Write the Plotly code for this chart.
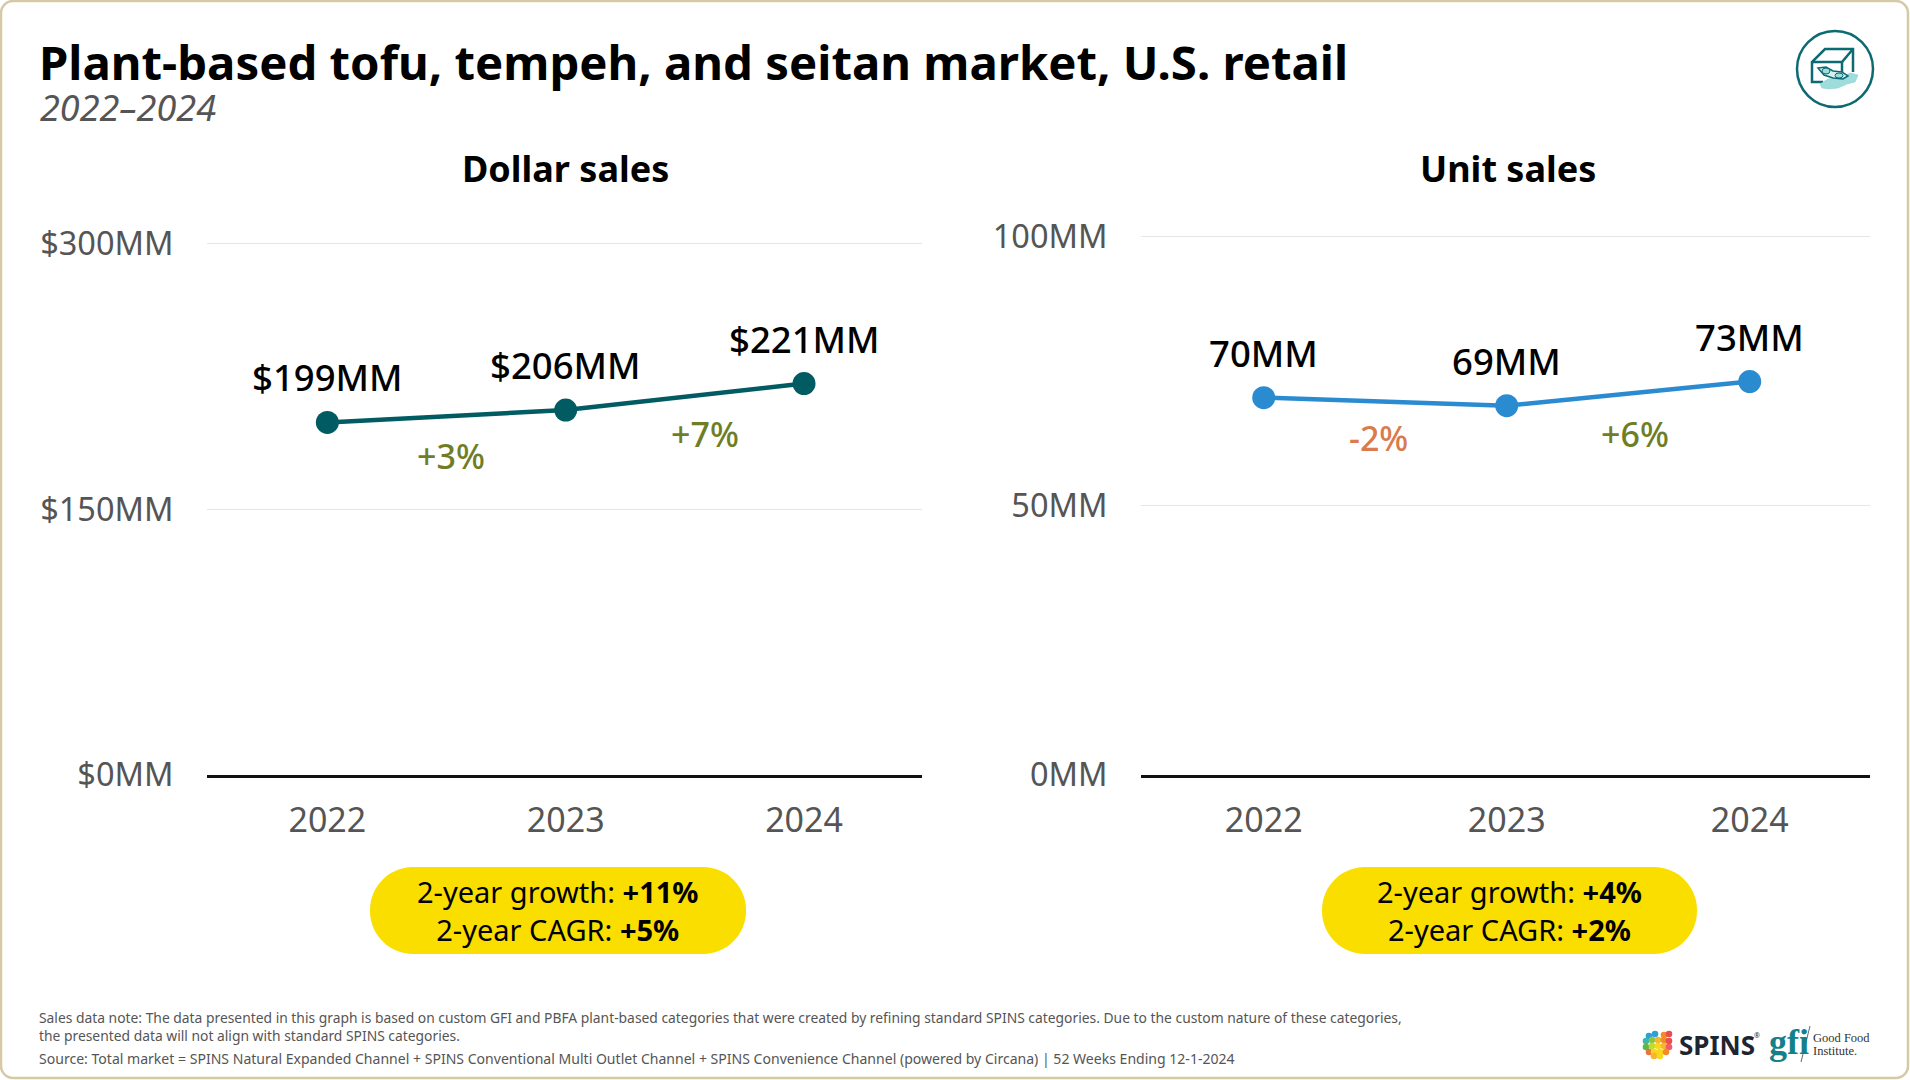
import plotly.graph_objects as go

# data
years = ['2022', '2023', '2024']
dollar_sales = [199, 206, 221]
unit_sales = [70, 68.5, 73]
dollar_labels = ['$199MM', '$206MM', '$221MM']
unit_labels = ['70MM', '69MM', '73MM']
dollar_changes = ['+3%', '+7%']
unit_changes = ['-2%', '+6%']
dollar_ticks = [0, 150, 300]
dollar_ticktext = ['$0MM', '$150MM', '$300MM']
unit_ticks = [0, 50, 100]
unit_ticktext = ['0MM', '50MM', '100MM']

W, H = 1910, 1080
FONT = 'Noto Sans'
GREEN = '#6f7e25'
ORANGE = '#d97b4e'
TEAL = '#005b62'
BLUE = '#2b8bd0'
ICON = '#0c6a72'
GREY = '#555555'


def px(x):
    return x / W


def py(y):
    return 1 - y / H


def path(points, close=True):
    # pixel points -> paper svg path
    s = 'M ' + ' L '.join(f'{px(x):.5f},{py(y):.5f}' for x, y in points)
    return s + (' Z' if close else '')


def round_rect(x0, y0, x1, y1, r):
    # rounded box in pixels, corners as cubic curves
    k = r * 0.45
    return (
        f'M {px(x0 + r):.5f},{py(y0):.5f} L {px(x1 - r):.5f},{py(y0):.5f} '
        f'C {px(x1 - k):.5f},{py(y0):.5f} {px(x1):.5f},{py(y0 + k):.5f} {px(x1):.5f},{py(y0 + r):.5f} '
        f'L {px(x1):.5f},{py(y1 - r):.5f} '
        f'C {px(x1):.5f},{py(y1 - k):.5f} {px(x1 - k):.5f},{py(y1):.5f} {px(x1 - r):.5f},{py(y1):.5f} '
        f'L {px(x0 + r):.5f},{py(y1):.5f} '
        f'C {px(x0 + k):.5f},{py(y1):.5f} {px(x0):.5f},{py(y1 - k):.5f} {px(x0):.5f},{py(y1 - r):.5f} '
        f'L {px(x0):.5f},{py(y0 + r):.5f} '
        f'C {px(x0):.5f},{py(y0 + k):.5f} {px(x0 + k):.5f},{py(y0):.5f} {px(x0 + r):.5f},{py(y0):.5f} Z'
    )


def paper_text(x, y, text, size, color='#000000', anchor='center', family=FONT):
    return dict(
        xref='paper', yref='paper', x=px(x), y=py(y), text=text, showarrow=False,
        xanchor=anchor, yanchor='middle', align=anchor if anchor != 'center' else 'center',
        font=dict(family=family, size=size, color=color),
    )


def blob(x, y, r, color):
    return dict(type='circle', xref='paper', yref='paper',
                x0=px(x - r), x1=px(x + r), y0=py(y - r), y1=py(y + r),
                line=dict(width=0), fillcolor=color)


fig = go.Figure()

# two line panels
fig.add_trace(go.Scatter(
    x=years, y=dollar_sales, mode='lines+markers', xaxis='x', yaxis='y',
    line=dict(color=TEAL, width=4.5), marker=dict(color=TEAL, size=23),
    showlegend=False,
))
fig.add_trace(go.Scatter(
    x=years, y=unit_sales, mode='lines+markers', xaxis='x2', yaxis='y2',
    line=dict(color=BLUE, width=4.5), marker=dict(color=BLUE, size=23),
    showlegend=False,
))

annotations = []

# value labels above the points
for i in range(3):
    annotations.append(dict(
        xref='x', yref='y', x=i, y=dollar_sales[i], text=dollar_labels[i],
        showarrow=False, yshift=45, font=dict(family=FONT, size=36.5, color='#000000', weight=500),
    ))
    annotations.append(dict(
        xref='x2', yref='y2', x=i, y=unit_sales[i], text=unit_labels[i],
        showarrow=False, yshift=45, font=dict(family=FONT, size=36.5, color='#000000', weight=500),
    ))

# year on year change, sitting under the segment between two points
change_offsets = [(4, -40), (20, -37)]
for i in range(2):
    annotations.append(dict(
        xref='x', yref='y', x=i + 0.5, y=(dollar_sales[i] + dollar_sales[i + 1]) / 2,
        text=dollar_changes[i], showarrow=False,
        xshift=change_offsets[i][0], yshift=change_offsets[i][1],
        font=dict(family=FONT, size=34, color=GREEN, weight=500),
    ))
unit_offsets = [(-7, -36), (7, -40)]
unit_colors = [ORANGE, GREEN]
for i in range(2):
    annotations.append(dict(
        xref='x2', yref='y2', x=i + 0.5, y=(unit_sales[i] + unit_sales[i + 1]) / 2,
        text=unit_changes[i], showarrow=False,
        xshift=unit_offsets[i][0], yshift=unit_offsets[i][1],
        font=dict(family=FONT, size=34, color=unit_colors[i], weight=500),
    ))

# headings
annotations += [
    paper_text(37, 62, '<b>Plant-based tofu, tempeh, and seitan market, U.S. retail</b>', 47.3, anchor='left'),
    paper_text(38, 108, '<i>2022–2024</i>', 36, GREY, anchor='left'),
    paper_text(565, 169, '<b>Dollar sales</b>', 36),
    paper_text(1508, 169, '<b>Unit sales</b>', 36),
]

# growth pills
annotations += [
    paper_text(558, 910, '2-year growth: <b>+11%</b><br>2-year CAGR: <b>+5%</b>', 29),
    paper_text(1509, 910, '2-year growth: <b>+4%</b><br>2-year CAGR: <b>+2%</b>', 29),
]

# footnotes
annotations += [
    paper_text(37, 1018, 'Sales data note: The data presented in this graph is based on custom GFI and PBFA plant-based categories that were created by refining standard SPINS categories. Due to the custom nature of these categories,', 13.85, GREY, anchor='left'),
    paper_text(37, 1035, 'the presented data will not align with standard SPINS categories.', 13.85, GREY, anchor='left'),
    paper_text(37, 1058, 'Source: Total market = SPINS Natural Expanded Channel + SPINS Conventional Multi Outlet Channel + SPINS Convenience Channel (powered by Circana) | 52 Weeks Ending 12-1-2024', 14.05, GREY, anchor='left'),
]

# logo text
annotations += [
    paper_text(1677, 1045, '<b>SPINS</b>', 26, '#1d2530', anchor='left'),
    paper_text(1752, 1035, '®', 7, '#1d2530', anchor='left'),
    paper_text(1767, 1042, '<b>gfi</b>', 36, '#14808c', anchor='left', family='Liberation Sans Narrow'),
    paper_text(1811, 1038, 'Good Food', 12.5, '#333333', anchor='left', family='Liberation Serif'),
    paper_text(1811, 1051, 'Institute.', 12.5, '#333333', anchor='left', family='Liberation Serif'),
]

shapes = [
    # card border
    dict(type='path', xref='paper', yref='paper', path=round_rect(1, 1, W - 2, H - 2, 12),
         line=dict(color='#d5c9a6', width=2.5), fillcolor='white', layer='below'),
    # pills
    dict(type='path', xref='paper', yref='paper', path=round_rect(370, 867, 746, 954, 43),
         line=dict(width=0), fillcolor='#f9de00', layer='below'),
    dict(type='path', xref='paper', yref='paper', path=round_rect(1322, 867, 1697, 954, 43),
         line=dict(width=0), fillcolor='#f9de00', layer='below'),
    # tofu icon
    dict(type='circle', xref='paper', yref='paper', x0=px(1797), x1=px(1873), y0=py(31), y1=py(107),
         line=dict(color=ICON, width=2.5), fillcolor='white'),
    dict(type='path', xref='paper', yref='paper',
         path=path([(1823, 82), (1812, 82), (1812, 62), (1825, 49), (1853, 49), (1853, 72)], close=False),
         line=dict(color=ICON, width=2.5)),
    dict(type='path', xref='paper', yref='paper',
         path=path([(1812, 62), (1842, 62), (1853, 49)], close=False), line=dict(color=ICON, width=2.5)),
    dict(type='line', xref='paper', yref='paper', x0=px(1842), x1=px(1842), y0=py(62), y1=py(72),
         line=dict(color=ICON, width=2.5)),
    # leaf under the beans
    dict(type='path', xref='paper', yref='paper',
         path=path([(1820, 84), (1828, 79), (1842, 77), (1850, 73), (1858, 75), (1855, 82), (1847, 84),
                    (1838, 88), (1829, 89), (1822, 88)]),
         line=dict(color='#7fcfd0', width=0.5), fillcolor='#9fdcdc'),
    # bean pod
    dict(type='path', xref='paper', yref='paper',
         path=path([(1818, 68), (1826, 67), (1833, 71), (1842, 72), (1848, 76), (1843, 79), (1833, 78), (1824, 75)]),
         line=dict(color=ICON, width=1.5), fillcolor='#d6f0f0'),
    dict(type='circle', xref='paper', yref='paper', x0=px(1822), x1=px(1830), y0=py(68), y1=py(74),
         line=dict(color=ICON, width=1), fillcolor='#9fdcdc'),
    dict(type='circle', xref='paper', yref='paper', x0=px(1835), x1=px(1843), y0=py(73), y1=py(78),
         line=dict(color=ICON, width=1), fillcolor='#9fdcdc'),
    # gfi divider
    dict(type='line', xref='paper', yref='paper', x0=px(1801), x1=px(1810), y0=py(1062), y1=py(1026),
         line=dict(color='#666666', width=1)),
]

# SPINS globe as a small patch of colored cells
globe_cells = [
    ('#2f9fd8', 1649, 1036), ('#2f9fd8', 1655, 1034), ('#f28c28', 1664, 1035), ('#e94e4e', 1669, 1034),
    ('#3fb6a8', 1646, 1041), ('#8cc63f', 1652, 1040), ('#f7b52c', 1658, 1040), ('#f28c28', 1664, 1040), ('#e94e4e', 1669, 1041),
    ('#5cb947', 1646, 1047), ('#c5d92d', 1652, 1046), ('#f9d71c', 1658, 1046), ('#f7b52c', 1664, 1046), ('#ee5a6f', 1669, 1047),
    ('#e9743e', 1649, 1052), ('#f9d71c', 1654, 1052), ('#f9d71c', 1660, 1052), ('#f28c28', 1666, 1052),
    ('#f7b52c', 1654, 1056), ('#f9d71c', 1660, 1056),
]
for c, x, y in globe_cells:
    shapes.append(blob(x, y, 3.3, c))

axis_common = dict(showgrid=False, showline=True, linecolor='#111111', linewidth=3,
                   ticks='outside', ticklen=14, tickcolor='rgba(255,255,255,0)',
                   type='category', range=[-0.505, 2.495], fixedrange=True,
                   tickfont=dict(family=FONT, size=34, color=GREY))
yaxis_common = dict(showgrid=True, gridcolor='#e6e6e6', gridwidth=1, zeroline=False, showline=False,
                    ticks='outside', ticklen=26, tickcolor='rgba(255,255,255,0)',
                    tickfont=dict(family=FONT, size=32.5, color=GREY), fixedrange=True)

fig.update_layout(
    width=W, height=H,
    margin=dict(l=0, r=0, t=0, b=0, autoexpand=False),
    paper_bgcolor='white', plot_bgcolor='white',
    showlegend=False,
    xaxis=dict(domain=[px(207), px(922)], anchor='y', **axis_common),
    xaxis2=dict(domain=[px(1141), px(1870)], anchor='y2', **axis_common),
    # a hair above the top tick, plotly drops a gridline sitting on the axis end
    yaxis=dict(domain=[py(774.5), py(242)], anchor='x', range=[0, 301],
               tickvals=dollar_ticks, ticktext=dollar_ticktext, **yaxis_common),
    yaxis2=dict(domain=[py(774.5), py(234)], anchor='x2', range=[0, 100.4],
                tickvals=unit_ticks, ticktext=unit_ticktext, **yaxis_common),
    annotations=annotations,
    shapes=shapes,
)

fig.write_html("out.html", config=dict(displayModeBar=False),
               post_script="document.body.style.margin='0';")
